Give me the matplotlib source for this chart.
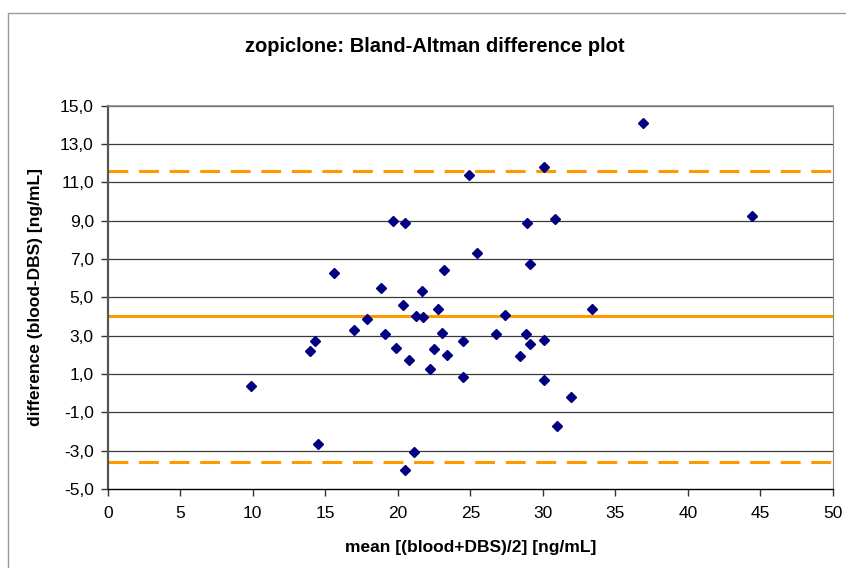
import matplotlib

matplotlib.use("Agg")
import matplotlib.pyplot as plt
from matplotlib.patches import Rectangle

# mean [(blood+DBS)/2] and difference (blood-DBS), ng/mL
MEAN = [9.9, 13.93, 14.32, 14.51, 15.58, 17.01, 17.86, 18.84, 19.12, 19.7,
        19.88, 20.39, 20.48, 20.48, 20.75, 21.14, 21.23, 21.65, 21.74, 22.22,
        22.5, 22.8, 23.07, 23.16, 23.37, 24.49, 24.49, 24.9, 25.48, 26.74,
        27.41, 28.42, 28.83, 28.93, 29.13, 29.13, 30.1, 30.1, 30.1, 30.85,
        30.94, 31.93, 33.42, 36.9, 44.42]
DIFF = [0.39, 2.22, 2.73, -2.63, 6.27, 3.30, 3.87, 5.49, 3.09, 9.0,
        2.36, 4.6, 8.9, -4.02, 1.72, -3.08, 4.03, 5.33, 3.96, 1.28,
        2.29, 4.4, 3.16, 6.45, 2.0, 2.73, 0.83, 11.37, 7.30, 3.09,
        4.1, 1.93, 3.09, 8.9, 6.73, 2.58, 11.8, 2.79, 0.69, 9.11,
        -1.69, -0.18, 4.4, 14.11, 9.26]
MEAN_DIFF = 4.05
UPPER_LOA = 11.6
LOWER_LOA = -3.6

XTICKS = list(range(0, 51, 5))
YTICKS = [-5, -3, -1, 1, 3, 5, 7, 9, 11, 13, 15]
YTICKLABELS = [f"{v:.1f}".replace(".", ",") for v in YTICKS]

ORANGE = "#FF9900"
NAVY = "#000080"

plt.rcParams.update({"font.family": "Liberation Sans", "font.size": 12.5})

fig = plt.figure(figsize=(8.46, 5.68), dpi=100)
# chart-area border (Excel style), runs off the right/bottom edge
fig.patches.append(Rectangle((8 / 846, -0.1), 1.2, 1.1 - 13 / 568,
                             transform=fig.transFigure, fill=False,
                             ec="#999999", lw=1.0))
ax = fig.add_axes([107.7 / 846, 1 - 489 / 568, (833 - 107.7) / 846, (489 - 105.7) / 568])

for v in YTICKS[1:]:
    ax.axhline(v, color="#3a3a3a", lw=0.9, zorder=1)

ax.axhline(MEAN_DIFF, color=ORANGE, lw=2.2, zorder=2)
for v in (UPPER_LOA, LOWER_LOA):
    ax.axhline(v, color=ORANGE, lw=2.2, dashes=(6.5, 3.5), zorder=2)

ax.plot(MEAN, DIFF, ls="none", marker="D", ms=5, color=NAVY, mec=NAVY, zorder=3)

ax.set_xlim(0, 50)
ax.set_ylim(-5, 15)
ax.set_xticks(XTICKS)
ax.set_yticks(YTICKS)
ax.set_yticklabels(YTICKLABELS)
ax.tick_params(axis="both", direction="out", length=5, width=1, color="#333333",
               labelsize=12.5)
ax.tick_params(axis="x", pad=7)
ax.tick_params(axis="y", pad=5)

ax.spines["left"].set_color("#555555")
ax.spines["left"].set_linewidth(1.6)
ax.spines["bottom"].set_color("black")
ax.spines["bottom"].set_linewidth(1.0)
ax.spines["right"].set_color("#888888")
ax.spines["top"].set_color("#888888")
ax.spines["top"].set_linewidth(1.2)

fig.text(435 / 846, 1 - 47 / 568, "zopiclone: Bland-Altman difference plot",
         ha="center", va="center", fontsize=14.5, fontweight="bold")
ax.set_xlabel("mean [(blood+DBS)/2] [ng/mL]", fontweight="bold", fontsize=12.5,
              labelpad=14)
ax.set_ylabel("difference (blood-DBS) [ng/mL]", fontweight="bold", fontsize=12.5,
              labelpad=12)

fig.savefig("out.png", dpi=100)
